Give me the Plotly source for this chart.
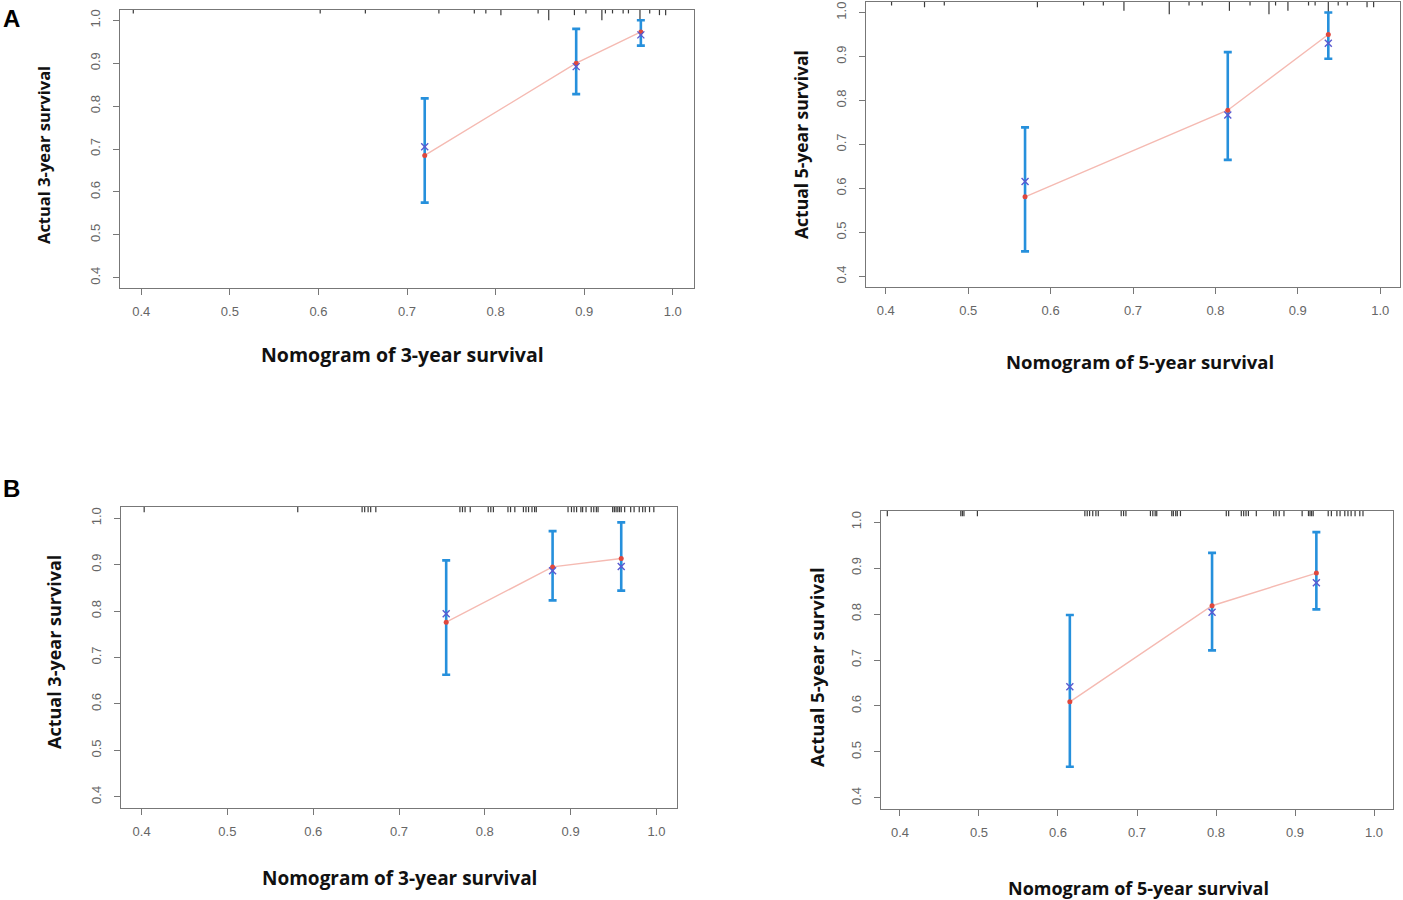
import plotly.graph_objects as go

# ---- data ----
# A, 3-year
a3_pred = [0.720, 0.891, 0.964]
a3_obs = [0.685, 0.900, 0.973]
a3_corr = [0.705, 0.892, 0.966]
a3_low = [0.575, 0.828, 0.941]
a3_high = [0.818, 0.980, 1.000]
a3_rug = [0.391, 0.602, 0.653, 0.736, 0.776, 0.789, 0.806, 0.848, 0.860, 0.889,
          0.902, 0.920, 0.924, 0.932, 0.944, 0.950, 0.963, 0.974, 0.985, 0.992]
a3_rug_len = [1, 1, 1, 1, 1, 1, 1.5, 1, 3, 1.5, 1, 3, 1, 1, 1, 1, 3, 1, 1.5, 1.5]

# A, 5-year
a5_pred = [0.569, 0.815, 0.937]
a5_obs = [0.581, 0.778, 0.950]
a5_corr = [0.616, 0.767, 0.930]
a5_low = [0.457, 0.665, 0.895]
a5_high = [0.739, 0.910, 1.000]
a5_rug = [0.407, 0.447, 0.471, 0.584, 0.640, 0.664, 0.689, 0.744, 0.768, 0.784, 0.817,
          0.842, 0.865, 0.873, 0.888, 0.913, 0.921, 0.937, 0.949, 0.960, 0.984, 0.992]
a5_rug_len = [1, 1.5, 1, 1.5, 1, 1, 2.5, 3.5, 1, 1, 2.5, 1, 3.5, 1, 2.5, 1, 1, 3.5, 1, 1, 1.5, 1.5]

# B, 3-year
b3_pred = [0.755, 0.879, 0.959]
b3_obs = [0.776, 0.895, 0.913]
b3_corr = [0.794, 0.887, 0.896]
b3_low = [0.663, 0.823, 0.844]
b3_high = [0.909, 0.972, 0.991]
b3_rug = [0.403, 0.582, 0.657, 0.660, 0.664, 0.667, 0.673, 0.771, 0.774, 0.777, 0.783,
          0.804, 0.807, 0.810, 0.827, 0.830, 0.835, 0.845, 0.848, 0.851, 0.855, 0.858,
          0.860, 0.897, 0.901, 0.904, 0.907, 0.912, 0.914, 0.918, 0.924, 0.927, 0.930,
          0.932, 0.949, 0.951, 0.953, 0.955, 0.957, 0.959, 0.963, 0.970, 0.974, 0.980,
          0.984, 0.987, 0.992, 0.997]

# B, 5-year
b5_pred = [0.615, 0.795, 0.927]
b5_obs = [0.609, 0.818, 0.889]
b5_corr = [0.642, 0.804, 0.868]
b5_low = [0.468, 0.721, 0.810]
b5_high = [0.798, 0.933, 0.978]
b5_rug = [0.384, 0.477, 0.479, 0.481, 0.498, 0.634, 0.637, 0.640, 0.644, 0.648, 0.651,
          0.680, 0.683, 0.686, 0.717, 0.720, 0.723, 0.725, 0.744, 0.746, 0.749, 0.751,
          0.755, 0.813, 0.816, 0.832, 0.835, 0.838, 0.841, 0.851, 0.873, 0.876, 0.880,
          0.886, 0.909, 0.917, 0.919, 0.921, 0.923, 0.942, 0.946, 0.953, 0.957, 0.963,
          0.967, 0.971, 0.976, 0.982, 0.986]

tick_vals = [0.4, 0.5, 0.6, 0.7, 0.8, 0.9, 1.0]
tick_text = ["0.4", "0.5", "0.6", "0.7", "0.8", "0.9", "1.0"]

panels = [
    # pred, obs, corr, low, high, rug, rug lengths, xtitle, ytitle
    (a3_pred, a3_obs, a3_corr, a3_low, a3_high, a3_rug, a3_rug_len,
     "Nomogram of 3-year survival", "Actual 3-year survival"),
    (a5_pred, a5_obs, a5_corr, a5_low, a5_high, a5_rug, a5_rug_len,
     "Nomogram of 5-year survival", "Actual 5-year survival"),
    (b3_pred, b3_obs, b3_corr, b3_low, b3_high, b3_rug, [1.4] * len(b3_rug),
     "Nomogram of 3-year survival", "Actual 3-year survival"),
    (b5_pred, b5_obs, b5_corr, b5_low, b5_high, b5_rug, [1.4] * len(b5_rug),
     "Nomogram of 5-year survival", "Actual 5-year survival"),
]

W, H = 1403, 900
# plot boxes in pixels: left, right, top, bottom
boxes = [(120, 694, 10, 288), (866, 1400, 2, 287), (121, 677, 507, 808), (881, 1393, 511, 809)]
# title centres (px) and font sizes
xtitle_pos = [(402, 354, 19.5), (1140, 361, 18.5), (399, 878, 19), (1138, 888, 18)]
ytitle_pos = [(43, 155, 16.5), (801, 145, 17.5), (54, 652, 18), (816, 667, 18.5)]

lo, hi = 0.376, 1.024
rug_unit = 0.008

fig = go.Figure()

for i, (pred, obs, corr, low, high, rug, rug_len, xt, yt) in enumerate(panels):
    n = "" if i == 0 else str(i + 1)
    xa, ya = "x" + n, "y" + n

    # rug of predicted probabilities hanging from the top of the box
    rx, ry = [], []
    for v, l in zip(rug, rug_len):
        rx += [v, v, None]
        ry += [hi, hi - rug_unit * l, None]
    fig.add_trace(go.Scatter(x=rx, y=ry, mode="lines", xaxis=xa, yaxis=ya,
                             line=dict(color="#3a3a3a", width=1.2), hoverinfo="skip"))

    # observed line
    fig.add_trace(go.Scatter(x=pred, y=obs, mode="lines", xaxis=xa, yaxis=ya,
                             line=dict(color="#f5bab2", width=1.4)))

    # error bars
    fig.add_trace(go.Scatter(
        x=pred, y=obs, mode="markers", xaxis=xa, yaxis=ya,
        marker=dict(size=1, color="rgba(0,0,0,0)"),
        error_y=dict(type="data", symmetric=False,
                     array=[h - o for h, o in zip(high, obs)],
                     arrayminus=[o - l for o, l in zip(obs, low)],
                     color="#2690dc", thickness=2.6, width=4),
    ))

    # observed points
    fig.add_trace(go.Scatter(x=pred, y=obs, mode="markers", xaxis=xa, yaxis=ya,
                             marker=dict(size=5, color="#e0483e")))
    # bias-corrected points
    fig.add_trace(go.Scatter(x=pred, y=corr, mode="markers", xaxis=xa, yaxis=ya,
                             marker=dict(size=7, symbol="x-thin", color="#5a5ad0",
                                         line=dict(width=1.4, color="#5a5ad0"))))

    l, r, t, b = boxes[i]
    axis_common = dict(range=[lo, hi], tickvals=tick_vals, ticktext=tick_text,
                       showgrid=False, zeroline=False, showline=True, mirror=True,
                       linecolor="#777777", linewidth=1.3, ticks="outside",
                       ticklen=6, tickwidth=1.2, tickcolor="#777777",
                       tickfont=dict(family="Liberation Sans, Arial", size=13, color="#666666"))
    fig.layout["xaxis" + n] = dict(axis_common, domain=[l / W, r / W], anchor=ya,
                                   ticklabelstandoff=5)
    fig.layout["yaxis" + n] = dict(axis_common, domain=[1 - b / H, 1 - t / H], anchor=xa,
                                   tickangle=-90, ticklabelstandoff=8)

    px_, py_, fs = xtitle_pos[i]
    fig.add_annotation(x=px_ / W, y=1 - py_ / H, xref="paper", yref="paper",
                       xanchor="center", yanchor="middle",
                       text="<b>" + xt + "</b>", showarrow=False,
                       font=dict(family="Open Sans", size=fs, color="#111111"))
    px_, py_, fs = ytitle_pos[i]
    fig.add_annotation(x=px_ / W, y=1 - py_ / H, xref="paper", yref="paper",
                       xanchor="center", yanchor="middle",
                       text="<b>" + yt + "</b>", showarrow=False, textangle=-90,
                       font=dict(family="Open Sans", size=fs, color="#111111"))

# panel letters
for letter, ly in [("A", 18), ("B", 488)]:
    fig.add_annotation(x=1 / W, y=1 - ly / H, xref="paper", yref="paper",
                       xanchor="left", yanchor="middle", text="<b>" + letter + "</b>",
                       showarrow=False,
                       font=dict(family="Liberation Sans, Arial", size=24, color="#000000"))

fig.update_layout(width=W, height=H, margin=dict(l=0, r=0, t=0, b=0),
                  plot_bgcolor="white", paper_bgcolor="white", showlegend=False)

# drop the default page margin so the figure sits at the window origin
fig.write_html("out.html", config={"displayModeBar": False},
               post_script="document.body.style.margin='0px';")
